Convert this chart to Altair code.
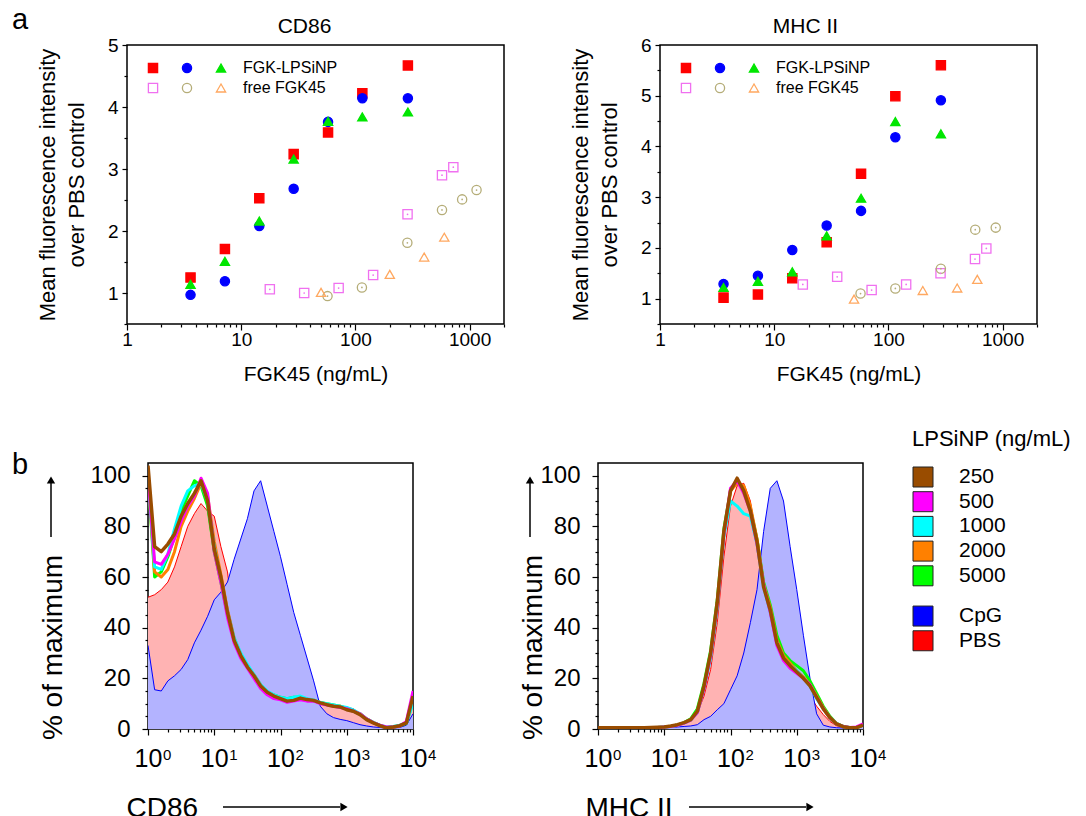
import altair as alt
import pandas as pd

FONT = "Liberation Sans"

# ---------------- panel a : scatter data ----------------
LPS_X = [3.6, 7.2, 14.4, 28.8, 57.6, 115, 288]
FREE_SQ_X = [17.8, 35.6, 71.3, 143, 286, 573, 720]
FREE_CI_X_CD86 = [57, 114, 285, 573, 860, 1150]
FREE_CI_X_MHC = [57, 115, 288, 576, 870]
FREE_TRI_X = [50, 200, 400, 600]

CD86_RED_SQ = [1.25, 1.71, 2.53, 3.24, 3.59, 4.22, 4.67]
CD86_BLUE_CI = [0.97, 1.19, 2.08, 2.68, 3.76, 4.14, 4.14]
CD86_GREEN_TRI = [1.14, 1.51, 2.16, 3.16, 3.77, 3.84, 3.92]
CD86_PINK_SQ = [1.06, 1.00, 1.08, 1.29, 2.27, 2.90, 3.03]
CD86_OLIVE_CI = [0.95, 1.09, 1.81, 2.34, 2.51, 2.66]
CD86_ORANGE_TRI = [1.01, 1.30, 1.58, 1.90]

MHC_RED_SQ = [1.02, 1.08, 1.40, 2.11, 3.46, 4.99, 5.60]
MHC_BLUE_CI = [1.29, 1.45, 1.96, 2.44, 2.73, 4.18, 4.91]
MHC_GREEN_TRI = [1.22, 1.34, 1.53, 2.24, 2.98, 4.49, 4.25]
MHC_PINK_SQ = [1.28, 1.43, 1.17, 1.28, 1.50, 1.78, 1.99]
MHC_OLIVE_CI = [1.10, 1.20, 1.59, 2.36, 2.40]
MHC_ORANGE_TRI = [0.99, 1.16, 1.21, 1.38]

SERIES = ["sq_lps", "ci_lps", "FGK-LPSiNP", "sq_free", "ci_free", "free FGK45"]
SHAPES = ["square", "circle", "triangle-up", "square", "circle", "triangle-up"]
FILLS = ["#ff0000", "#0000ff", "#00e600", "transparent", "transparent", "transparent"]
STROKES = ["#ff0000", "#0000ff", "#00e600", "#f070f0", "#b5ad78", "#ffa860"]

X_TICKS_A = [1, 10, 100, 1000]
X_MINOR_A = [2, 3, 4, 5, 6, 7, 8, 9, 20, 30, 40, 50, 60, 70, 80, 90,
             200, 300, 400, 500, 600, 700, 800, 900, 2000]

# ---------------- panel b : histogram data ----------------
LOG_E = [0.0, 0.1, 0.2, 0.3, 0.4, 0.5, 0.6, 0.7, 0.8, 0.9,
         1.0, 1.1, 1.2, 1.3, 1.4, 1.5, 1.6, 1.7, 1.8, 1.9,
         2.0, 2.1, 2.2, 2.3, 2.4, 2.5, 2.6, 2.7, 2.8, 2.9,
         3.0, 3.1, 3.2, 3.3, 3.4, 3.5, 3.6, 3.7, 3.8, 3.9, 4.0]

CD86_PBS = [52, 53, 55, 58, 64, 72, 80, 85, 89, 86,
            84, 72, 62, 40, 30, 24, 19, 15.5, 13.5, 12.5,
            11.5, 11, 11, 11.5, 11, 10.5, 10, 9.5, 9, 8.6,
            8.5, 8, 6, 4, 2.5, 1.5, 1, 1.2, 1.5, 3, 12]
CD86_CPG = [33, 15.5, 15, 19, 21, 23.5, 27.4, 34, 39, 44.5,
            51, 54, 58, 67, 75, 83, 94, 98, 88, 78,
            68, 57, 46, 37, 28, 19, 9, 6, 4.5, 3.8,
            3.3, 2.5, 1.7, 1.2, 0.8, 0.6, 0.4, 0.4, 0.6, 1.5, 6]
CD86_250 = [104, 72, 70, 73, 77, 84, 89, 93, 98, 90,
            71, 60, 46, 35, 29, 24.5, 21, 17, 14.5, 13,
            12, 11, 11.3, 12.2, 11.6, 11.3, 10.3, 9.6, 9, 8.7,
            7.6, 7, 5.7, 3.7, 2.4, 1.3, 0.4, 0.8, 1.3, 2.4, 13]
CD86_500 = [100, 66, 65, 69, 75, 82, 88, 92, 99, 93,
            70, 58, 44, 34, 28, 24, 20, 16, 13.5, 12,
            11.5, 10.5, 11, 11.5, 11, 11, 10, 9.5, 9, 8.5,
            8, 7, 6, 4, 2.5, 1.5, 0.8, 0.8, 1.2, 3, 15]
CD86_1000 = [100, 64, 63, 69, 79, 88, 94, 96, 97, 90,
             72, 59, 46, 36, 30, 25.5, 21.5, 17.5, 15, 13.5,
             12.5, 12, 12.5, 13, 12, 11.5, 10.5, 10, 9.5, 9,
             8.5, 7.5, 6, 4, 2.6, 1.5, 0.8, 1, 1.5, 2.5, 10]
CD86_2000 = [100, 62, 60, 63, 70, 80, 86, 91, 97, 92,
             74, 61, 47, 36, 29.5, 25, 21.5, 17.5, 14.5, 13,
             12, 11.5, 12, 12.5, 11.8, 11.3, 10.5, 9.8, 9.2, 9,
             8, 7.3, 6, 4, 2.5, 1.4, 0.6, 0.8, 1.3, 2.5, 12]
CD86_5000 = [100, 60, 62, 68, 76, 86, 92, 98, 96, 88,
             70, 58, 45, 35, 29, 25, 21, 17, 14.5, 13.5,
             12.5, 12, 12.5, 12.5, 11.5, 11, 10.5, 10, 9.5, 9,
             8, 7, 6, 4, 2.5, 1.4, 0.6, 0.8, 1.2, 2.2, 11]

MHC_PBS = [0.2, 0.2, 0.2, 0.2, 0.2, 0.2, 0.2, 0.3, 0.3, 0.4,
           0.5, 0.8, 1.5, 2.5, 4, 6.3, 13, 23.5, 42, 68,
           88, 96, 97, 90, 74, 56, 43, 34, 27, 23.5,
           21, 17, 13, 9, 5.7, 3, 1.3, 0.8, 0.5, 1, 2]
MHC_CPG = [0.2, 0.2, 0.2, 0.2, 0.2, 0.2, 0.2, 0.2, 0.2, 0.3,
           0.5, 0.6, 0.8, 1, 1.2, 1.7, 3.7, 5, 7.6, 10,
           15.5, 21, 30, 42, 55, 78, 95, 98, 90, 72,
           55, 37, 20, 6, 1.5, 0.8, 0.5, 0.4, 0.4, 0.5, 1]
MHC_250 = [0.5, 0.5, 0.5, 0.5, 0.5, 0.5, 0.5, 0.5, 0.6, 0.7,
           0.8, 1.2, 1.7, 2.5, 3.7, 7, 17, 30, 50, 78,
           94, 99, 94, 86, 74, 56, 47, 34, 28, 25,
           22.5, 20, 17, 12.5, 8, 4.5, 2, 0.9, 0.5, 0.5, 1.5]
MHC_500 = [0.3, 0.3, 0.3, 0.3, 0.3, 0.3, 0.3, 0.4, 0.5, 0.6,
           0.8, 1, 1.5, 2.3, 3.5, 6.5, 16, 29, 49, 77,
           95, 98, 93, 86, 73, 57, 46, 33, 27, 24,
           22, 20, 17.5, 12.5, 8, 4.5, 2, 1, 0.6, 0.8, 2]
MHC_1000 = [0.3, 0.3, 0.3, 0.3, 0.3, 0.3, 0.3, 0.4, 0.5, 0.6,
            0.8, 1, 1.5, 2.3, 3.5, 6.5, 16, 28, 48, 76,
            90, 88, 85, 84, 73, 56, 46, 34, 28, 25,
            23, 20, 17, 12, 8, 4.5, 2, 1, 0.6, 0.6, 1.5]
MHC_2000 = [0.3, 0.3, 0.3, 0.3, 0.3, 0.3, 0.3, 0.4, 0.5, 0.6,
            0.8, 1.1, 1.6, 2.4, 3.6, 6.8, 16.5, 29, 49, 77,
            94, 97, 96, 88, 75, 57, 48, 35, 29, 26,
            23, 20.5, 17.5, 13, 8.5, 4.5, 2, 1, 0.5, 0.5, 1.5]
MHC_5000 = [0.3, 0.3, 0.3, 0.3, 0.3, 0.3, 0.3, 0.4, 0.5, 0.6,
            0.8, 1.1, 1.6, 2.5, 4, 8, 18, 31, 51, 79,
            94, 98, 94, 87, 75, 58, 49, 37, 30, 27,
            25, 23, 19, 14, 9, 5, 2.2, 1, 0.5, 0.5, 1.5]

X_TICKS_B = [1, 10, 100, 1000, 10000]
X_EXPONENTS_B = ["0", "1", "2", "3", "4"]
X_MINOR_B = [2, 3, 4, 5, 6, 7, 8, 9, 20, 30, 40, 50, 60, 70, 80, 90,
             200, 300, 400, 500, 600, 700, 800, 900,
             2000, 3000, 4000, 5000, 6000, 7000, 8000, 9000]
Y_TICKS_B = [0, 20, 40, 60, 80, 100]
Y_MINOR_B = [5, 10, 15, 25, 30, 35, 45, 50, 55, 65, 70, 75, 85, 90, 95]

LEG_TITLE = "LPSiNP (ng/mL)"
LEG_LABELS = ["250", "500", "1000", "2000", "5000", "CpG", "PBS"]
LEG_COLORS = ["#994c00", "#ff00ff", "#00ffff", "#ff8000", "#00ff00", "#0000ff", "#ff0000"]
LEG_GROUP = [0, 0, 0, 0, 0, 1, 1]
LPS_LINE_COLORS = {"5000": "#00ff00", "2000": "#ff8000", "1000": "#00ffff",
                   "500": "#ff00ff", "250": "#994c00"}

# ---------------- helpers ----------------
ONE = pd.DataFrame({"t": ["a"]})
IND = dict(fill="independent", stroke="independent", shape="independent",
           color="independent")


def label_mark(text, x, y, size, align="left", opacity=1):
    return alt.Chart(pd.DataFrame({"t": [text]})).mark_text(
        align=align, baseline="alphabetic", fontSize=size, color="black", opacity=opacity
    ).encode(x=alt.value(x), y=alt.value(y), text="t:N")


def letter_panel(letter, y):
    return label_mark(letter, 0, y, 29).properties(
        width=1, height=1, view=alt.ViewBackground(stroke="transparent"))


def scatter_panel(xs_list, ys_list, title, ymax, title_dx):
    rows = []
    for name, xs, ys in zip(SERIES, xs_list, ys_list):
        for xv, yv in zip(xs, ys):
            rows.append({"x": xv, "y": yv, "series": name})
    df = pd.DataFrame(rows)
    W, H = 377, 279
    xsc = alt.Scale(type="log", domain=[1, 2000])
    ysc = alt.Scale(domain=[0.5, ymax])
    ymaj = list(range(1, int(ymax) + 1))
    ymin = [k + 0.5 for k in range(0, int(ymax))]
    leg = alt.Legend(title=None, orient="none", legendX=18, legendY=15, columns=3,
                     direction="horizontal",
                     labelExpr="indexof(datum.label, '_') >= 0 ? '' : datum.label",
                     labelFontSize=16, labelOffset=14, columnPadding=4, rowPadding=4,
                     padding=0, symbolSize=85, symbolStrokeWidth=1.3, labelColor="black")
    x_major = alt.Axis(orient="bottom", values=X_TICKS_A, format="d", title="FGK45 (ng/mL)",
                       labelFontSize=19, titleFontSize=21, tickSize=6, labelPadding=0,
                       titlePadding=14, labelFlush=False, labelOverlap=False)
    y_major = alt.Axis(orient="left", values=ymaj,
                       title=["Mean fluorescence intensity", "over PBS control"],
                       labelFontSize=19, titleFontSize=22, titleLineHeight=29, tickSize=5,
                       labelPadding=4, titlePadding=19, labelFlush=False, labelOverlap=False)
    x_minor = alt.Axis(orient="bottom", values=X_MINOR_A, labels=False, tickSize=3, title="")
    y_minor = alt.Axis(orient="left", values=ymin, labels=False, tickSize=3, title="")

    minor = alt.Chart(df).mark_point(opacity=0).encode(
        x=alt.X("x:Q", scale=xsc, axis=x_minor),
        y=alt.Y("y:Q", scale=ysc, axis=y_minor))
    pts = alt.Chart(df).mark_point(size=85, opacity=1, strokeWidth=1.3).encode(
        x=alt.X("x:Q", scale=xsc, axis=x_major),
        y=alt.Y("y:Q", scale=ysc, axis=y_major),
        shape=alt.Shape("series:N", scale=alt.Scale(domain=SERIES, range=SHAPES), legend=leg),
        fill=alt.Fill("series:N", scale=alt.Scale(domain=SERIES, range=FILLS), legend=leg),
        stroke=alt.Stroke("series:N", scale=alt.Scale(domain=SERIES, range=STROKES), legend=leg))
    dots = alt.Chart(df).transform_filter(
        alt.FieldOneOfPredicate(field="series", oneOf=["sq_free", "ci_free"])
    ).mark_circle(size=3, opacity=1).encode(
        x=alt.X("x:Q", scale=xsc, axis=None),
        y=alt.Y("y:Q", scale=ysc, axis=None),
        color=alt.Color("series:N", scale=alt.Scale(domain=["sq_free", "ci_free"],
                                                    range=[STROKES[3], STROKES[4]]), legend=None))
    layers = [minor, pts, dots,
              label_mark(title, W / 2 + title_dx, -12, 21, align="center")]
    return alt.layer(*layers).resolve_axis(
        x="independent", y="independent").properties(width=W, height=H)


def hist_panel(pbs, cpg, lps, xtitle, xtitle_x, ytitle_x, yarrow_x, xarrow):
    fl = [10 ** e for e in LOG_E]
    xsc = alt.Scale(type="log", domain=[1, 10000])
    ysc = alt.Scale(domain=[0, 105])

    def df_of(vals):
        return pd.DataFrame({"fl": fl, "pct": vals})

    def xy():
        return dict(x=alt.X("fl:Q", scale=xsc, axis=None), y=alt.Y("pct:Q", scale=ysc, axis=None))

    x_major = alt.Axis(orient="bottom", values=X_TICKS_B, labelExpr="'10'", labelFontSize=25,
                       tickSize=6, labelPadding=11, title=xtitle, titleFontSize=28,
                       titleX=xtitle_x, titleY=87, titleAlign="left", titleBaseline="alphabetic",
                       labelFlush=False, labelOverlap=False)
    y_major = alt.Axis(orient="left", values=Y_TICKS_B, labelFontSize=24, tickSize=6,
                       labelPadding=12, title="% of maximum", titleFontSize=28,
                       titleX=ytitle_x, titleY=184, titleAngle=270, titleAlign="center",
                       titleBaseline="alphabetic", labelFlush=False, labelOverlap=False)
    x_minor = alt.Axis(orient="bottom", values=X_MINOR_B, labels=False, tickSize=3, title="")
    y_minor = alt.Axis(orient="left", values=Y_MINOR_B, labels=False, tickSize=3, title="")

    layers = []
    layers.append(alt.Chart(df_of(pbs)).mark_area(color="#ffb3b3", opacity=1, clip=True).encode(
        x=alt.X("fl:Q", scale=xsc, axis=x_major), y=alt.Y("pct:Q", scale=ysc, axis=y_major)))
    layers.append(alt.Chart(df_of(pbs)).mark_line(color="#ff0000", strokeWidth=1, clip=True)
                  .encode(**xy()))
    layers.append(alt.Chart(df_of(cpg)).mark_area(color="#b3b3ff", opacity=1, clip=True)
                  .encode(**xy()))
    layers.append(alt.Chart(df_of(cpg)).mark_line(color="#0000ff", strokeWidth=1, clip=True)
                  .encode(**xy()))
    for key in ["5000", "2000", "1000", "500", "250"]:
        layers.append(alt.Chart(df_of(lps[key])).mark_line(
            color=LPS_LINE_COLORS[key], strokeWidth=3.5 if key == "250" else 3, clip=True,
            strokeJoin="round").encode(**xy()))
    layers.append(alt.Chart(df_of(pbs)).mark_point(opacity=0).encode(
        x=alt.X("fl:Q", scale=xsc, axis=x_minor), y=alt.Y("pct:Q", scale=ysc, axis=y_minor)))
    exp_df = pd.DataFrame({"fl": X_TICKS_B, "exp": X_EXPONENTS_B})
    layers.append(alt.Chart(exp_df).mark_text(align="left", baseline="alphabetic", fontSize=15,
                                              dx=15, color="black").encode(
        x=alt.X("fl:Q", scale=xsc, axis=None), y=alt.value(297), text="exp:N"))
    # axis-title arrows
    layers.append(alt.Chart(ONE).mark_rule(color="black", strokeWidth=1.5).encode(
        x=alt.value(yarrow_x), y=alt.value(74), y2=alt.value(20)))
    layers.append(alt.Chart(ONE).mark_point(shape="triangle-up", filled=True, size=70,
                                            color="black", opacity=1).encode(
        x=alt.value(yarrow_x), y=alt.value(17)))
    layers.append(alt.Chart(ONE).mark_rule(color="black", strokeWidth=1.5).encode(
        x=alt.value(xarrow[0]), x2=alt.value(xarrow[1] - 4), y=alt.value(344)))
    layers.append(alt.Chart(ONE).mark_point(shape="triangle-right", filled=True, size=70,
                                            color="black", opacity=1).encode(
        x=alt.value(xarrow[1]), y=alt.value(344)))
    return alt.layer(*layers).resolve_axis(x="independent", y="independent").properties(
        width=265, height=266)


def legend_panel():
    rows = [i + 0.63 * g for i, g in enumerate(LEG_GROUP)]
    df = pd.DataFrame({"label": LEG_LABELS, "row": rows})
    row_px, first_px, h = 24.7, 14, 266
    ysc = alt.Scale(domain=[-first_px / row_px, (h - first_px) / row_px], reverse=True)
    sq = alt.Chart(df).mark_square(size=400, opacity=1, stroke="#222222", strokeWidth=1).encode(
        x=alt.value(11), y=alt.Y("row:Q", scale=ysc, axis=None),
        fill=alt.Fill("label:N", scale=alt.Scale(domain=LEG_LABELS, range=LEG_COLORS), legend=None))
    tx = alt.Chart(df).mark_text(align="left", baseline="middle", fontSize=21, color="black").encode(
        x=alt.value(47), y=alt.Y("row:Q", scale=ysc, axis=None), text="label:N")
    ttl = label_mark(LEG_TITLE, 0, -17, 22)
    return alt.layer(sq, tx, ttl).properties(
        width=150, height=266, view=alt.ViewBackground(stroke="transparent"))


cd86_sc = scatter_panel(
    [LPS_X, LPS_X, LPS_X, FREE_SQ_X, FREE_CI_X_CD86, FREE_TRI_X],
    [CD86_RED_SQ, CD86_BLUE_CI, CD86_GREEN_TRI, CD86_PINK_SQ, CD86_OLIVE_CI, CD86_ORANGE_TRI],
    "CD86", 5, -11)
mhc_sc = scatter_panel(
    [LPS_X, LPS_X, LPS_X, FREE_SQ_X, FREE_CI_X_MHC, FREE_TRI_X],
    [MHC_RED_SQ, MHC_BLUE_CI, MHC_GREEN_TRI, MHC_PINK_SQ, MHC_OLIVE_CI, MHC_ORANGE_TRI],
    "MHC II", 6, -43)

cd86_h = hist_panel(CD86_PBS, CD86_CPG,
                    {"250": CD86_250, "500": CD86_500, "1000": CD86_1000,
                     "2000": CD86_2000, "5000": CD86_5000},
                    "CD86", -22, -87, -97, (75, 196))
mhc_h = hist_panel(MHC_PBS, MHC_CPG,
                   {"250": MHC_250, "500": MHC_500, "1000": MHC_1000,
                    "2000": MHC_2000, "5000": MHC_5000},
                   "MHC II", -13, -57, -68, (91, 212))

pair_a = alt.hconcat(cd86_sc, mhc_sc, spacing=62).resolve_scale(**IND)
row1 = alt.hconcat(letter_panel("a", -16), pair_a, spacing=6).resolve_scale(**IND)
inner = alt.hconcat(mhc_h, legend_panel(), spacing=22).resolve_scale(**IND)
pair_b = alt.hconcat(cd86_h, inner, spacing=80).resolve_scale(**IND)
row2 = alt.hconcat(letter_panel("b", 11), pair_b, spacing=9).resolve_scale(**IND)

chart = alt.concat(row1, row2, columns=1, spacing=42, align="none").resolve_scale(**IND).properties(
    padding={"left": 3, "top": -3, "right": 0, "bottom": 0}
).configure(font=FONT).configure_view(stroke="black", strokeWidth=1.5).configure_axis(
    grid=False, domain=False, tickColor="black", labelColor="black", titleColor="black",
    titleFontWeight="normal", tickWidth=1.2
).configure_title(fontWeight="normal", color="black")

chart.save("out.html", embed_options={"renderer": "svg", "actions": False})
